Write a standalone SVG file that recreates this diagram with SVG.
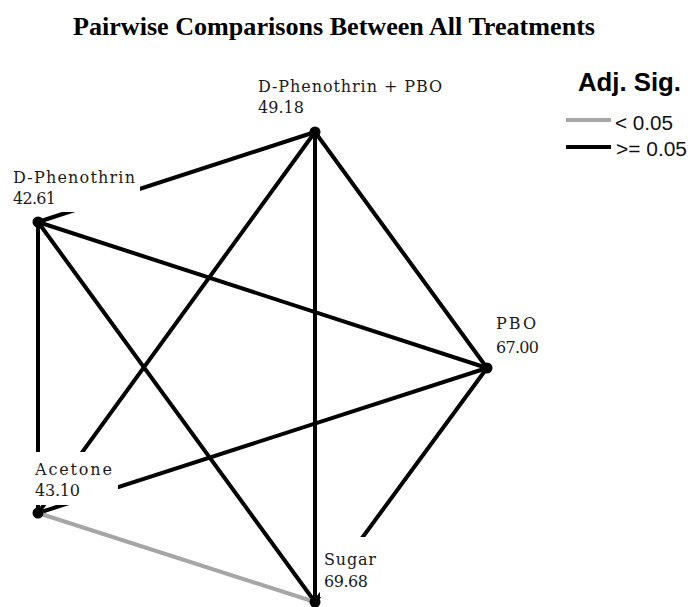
<svg xmlns="http://www.w3.org/2000/svg" width="691" height="607" viewBox="0 0 691 607">
<style>
.e{stroke:#000;stroke-width:4;fill:none}
.g{stroke:#a6a6a6;stroke-width:4;fill:none}
.n{fill:#000}
.lb{font-family:"DejaVu Serif","Liberation Serif",serif;font-size:16px;fill:#1a1a1a}
.bg{fill:#fff}
.t{font-family:"Liberation Serif",serif;font-size:25px;font-weight:bold;fill:#000}
.lg{font-family:"Liberation Sans",Arial,sans-serif;font-size:20px;fill:#111}
</style>
<rect width="691" height="607" fill="#fff"/>
<text class="t" x="73" y="35" textLength="522" lengthAdjust="spacingAndGlyphs">Pairwise Comparisons Between All Treatments</text>
<g id="connectors">
<line class="e" x1="38" y1="222" x2="315" y2="132"/>
<line class="e" x1="38" y1="222" x2="487" y2="368"/>
<line class="e" x1="38" y1="222" x2="38" y2="513"/>
<line class="e" x1="38" y1="222" x2="315" y2="602"/>
<line class="e" x1="315" y1="132" x2="487" y2="368"/>
<line class="e" x1="315" y1="132" x2="38" y2="513"/>
<line class="e" x1="315" y1="132" x2="315" y2="602"/>
<line class="e" x1="487" y1="368" x2="38" y2="513"/>
<line class="e" x1="487" y1="368" x2="315" y2="602"/>
<line class="g" x1="38" y1="513" x2="315" y2="602"/>
</g>
<g id="node-dphenothrin-pbo">
<circle class="n" cx="315" cy="132" r="5.5"/>
<text class="lb" x="258" y="92" textLength="184" lengthAdjust="spacing">D-Phenothrin + PBO</text>
<text class="lb" x="258" y="113" textLength="46" lengthAdjust="spacing">49.18</text>
</g>
<g id="node-dphenothrin">
<rect class="bg" x="8" y="162" width="132" height="50"/>
<circle class="n" cx="38" cy="222" r="5.5"/>
<text class="lb" x="13" y="183" textLength="122" lengthAdjust="spacing">D-Phenothrin</text>
<text class="lb" x="13" y="204" textLength="43" lengthAdjust="spacing">42.61</text>
</g>
<g id="node-pbo">
<circle class="n" cx="487" cy="368" r="5.5"/>
<text class="lb" x="496" y="329" textLength="40" lengthAdjust="spacing">PBO</text>
<text class="lb" x="496" y="353" textLength="43" lengthAdjust="spacing">67.00</text>
</g>
<g id="node-acetone">
<rect class="bg" x="30" y="452" width="88" height="53"/>
<circle class="n" cx="38" cy="513" r="5.5"/>
<text class="lb" x="35" y="475" textLength="77" lengthAdjust="spacing">Acetone</text>
<text class="lb" x="35" y="496" textLength="45" lengthAdjust="spacing">43.10</text>
</g>
<g id="node-sugar">
<rect class="bg" x="320" y="537" width="70" height="60"/>
<circle class="n" cx="315" cy="602" r="5.5"/>
<text class="lb" x="324" y="565" textLength="52" lengthAdjust="spacing">Sugar</text>
<text class="lb" x="324" y="587" textLength="44" lengthAdjust="spacing">69.68</text>
</g>
<g id="legend">
<text x="578" y="91" font-family="Liberation Sans,Arial,sans-serif" font-size="25" font-weight="bold" fill="#000" textLength="103" lengthAdjust="spacingAndGlyphs">Adj. Sig.</text>
<line class="g" x1="566" y1="120" x2="611" y2="120"/>
<text class="lg" x="615" y="130" textLength="58" lengthAdjust="spacingAndGlyphs">&lt; 0.05</text>
<line class="e" x1="566" y1="147" x2="611" y2="147"/>
<text class="lg" x="616" y="156" textLength="71" lengthAdjust="spacingAndGlyphs">&gt;= 0.05</text>
</g>
</svg>
